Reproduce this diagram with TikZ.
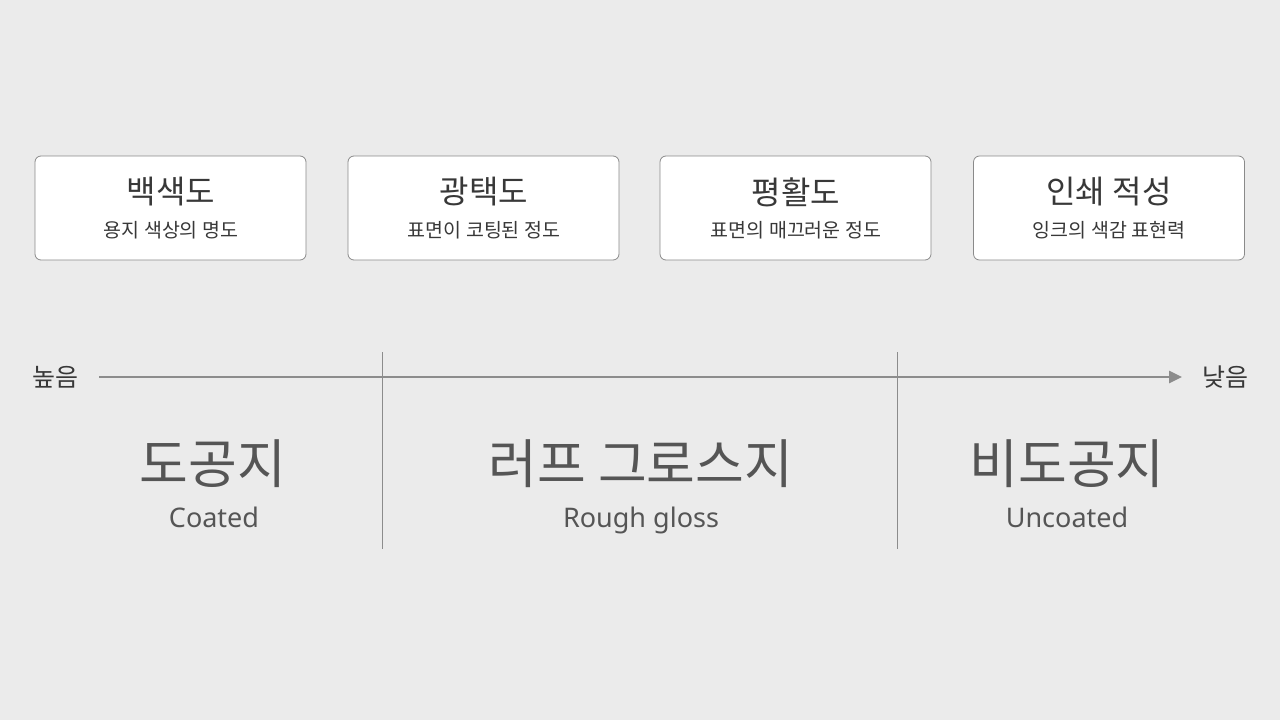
\documentclass[tikz,border=0pt]{standalone}
\usepackage{fontspec}
\setmainfont{Noto Sans CJK KR}
\newfontfamily\latinf{Noto Sans}
\usetikzlibrary{arrows.meta}
\definecolor{bg}{HTML}{EBEBEB}
\definecolor{boxline}{HTML}{8A8A8A}
\definecolor{axis}{HTML}{8C8C8C}
\definecolor{txt}{HTML}{383838}
\definecolor{big}{HTML}{555555}
\tikzset{
  card/.style={draw=boxline, line width=0.8pt, fill=white, rounded corners=6pt,
    minimum width=271pt, minimum height=104pt, inner sep=0pt},
  cardtitle/.style={text=txt, font=\fontsize{32}{36}\selectfont, inner sep=0pt},
  cardsub/.style={text=txt, font=\fontsize{19.5}{23}\selectfont, inner sep=0pt},
  endlabel/.style={text=txt, font=\fontsize{25}{28}\selectfont, inner sep=0pt},
  bigname/.style={text=big, font=\fontsize{53}{58}\selectfont, inner sep=0pt},
  engname/.style={text=big, font=\latinf\fontsize{27}{30}\selectfont, inner sep=0pt, anchor=base},
  divider/.style={draw=axis, line width=1pt},
  axisline/.style={draw=axis, line width=2.5pt, -{Triangle[length=13pt,width=12pt]}}
}
\begin{document}
\begin{tikzpicture}[x=1pt,y=-1pt]
\fill[bg] (0,0) rectangle (1280,720);
\useasboundingbox (0,0) rectangle (1280,720);

% cards
\node[card] (c1) at (170.5,208) {};
\node[card] (c2) at (483.5,208) {};
\node[card] (c3) at (795.5,208) {};
\node[card] (c4) at (1109,208) {};
\node[cardtitle] (t1) at (171,192) {백색도};
\node[cardsub] (s1) at (171,230) {용지 색상의 명도};
\node[cardtitle] (t2) at (484,192) {광택도};
\node[cardsub] (s2) at (484,230) {표면이 코팅된 정도};
\node[cardtitle] (t3) at (796,192) {평활도};
\node[cardsub] (s3) at (796,230) {표면의 매끄러운 정도};
\node[cardtitle] (t4) at (1109,192) {인쇄 적성};
\node[cardsub] (s4) at (1109,230) {잉크의 색감 표현력};

% axis
\node[endlabel] (hi) at (55,377) {높음};
\node[endlabel] (lo) at (1225,377) {낮음};
\coordinate (a0) at (99,377);
\coordinate (a1) at (1182,377);
\draw[axisline] (a0) -- (a1);

% dividers
\coordinate (d1t) at (382,352);
\coordinate (d1b) at (382,549);
\coordinate (d2t) at (897,352);
\coordinate (d2b) at (897,549);
\draw[divider] (d1t) -- (d1b);
\draw[divider] (d2t) -- (d2b);

% categories
\node[bigname] (k1) at (213,464) {도공지};
\node[engname] (e1) at (214,527) {Coated};
\node[bigname] (k2) at (641,464) {러프 그로스지};
\node[engname] (e2) at (641,527) {Rough gloss};
\node[bigname] (k3) at (1067,464) {비도공지};
\node[engname] (e3) at (1067,527) {Uncoated};
\end{tikzpicture}
\end{document}
